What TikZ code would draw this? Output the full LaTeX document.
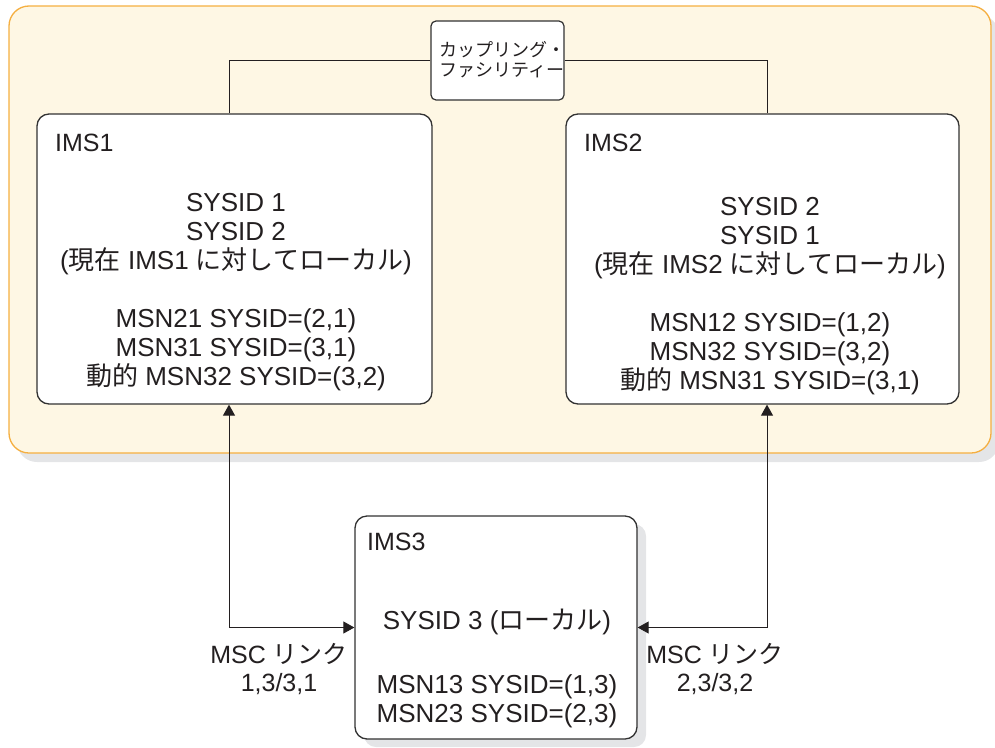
\documentclass[tikz,border=0pt]{standalone}
\usepackage{fontspec}
\setmainfont{Liberation Sans}
\newfontfamily\jp{Noto Sans CJK JP}
\usetikzlibrary{arrows.meta}
\definecolor{cream}{RGB}{254,247,228}
\definecolor{orangeb}{RGB}{245,175,65}
\definecolor{shadowg}{RGB}{228,229,231}
\definecolor{boxline}{RGB}{50,50,50}
\definecolor{txt}{RGB}{35,31,32}
\begin{document}
\begin{tikzpicture}[x=1pt,y=-1pt,
  plexbox/.style={draw=orangeb, line width=1.3pt, fill=cream, rounded corners=20pt, inner sep=0pt},
  sysbox/.style={draw=boxline, line width=1.3pt, fill=white, rounded corners=12pt, inner sep=0pt},
  cfbox/.style={draw=boxline, line width=1.2pt, fill=white, rounded corners=5pt, inner sep=0pt},
  shadowbox/.style={fill=shadowg, draw=none, inner sep=0pt},
  maintext/.style={font=\fontsize{26}{29}\selectfont, text=txt, align=center, inner sep=0pt},
  lbltext/.style={font=\fontsize{25}{28}\selectfont, text=txt, align=center, inner sep=0pt},
  cftext/.style={font=\fontsize{18}{20}\selectfont, text=txt, align=center, inner sep=0pt},
  link/.style={draw=txt, line width=1pt},
  biarrow/.style={link, {Triangle[length=11pt,width=12pt]}-{Triangle[length=11pt,width=12pt]}}
]
\useasboundingbox (0,0) rectangle (995,747);

% outer sysplex area
\node[shadowbox, rounded corners=20pt, minimum width=982pt, minimum height=447pt] (plexsh) at (508,238.5) {};
\node[plexbox, minimum width=982pt, minimum height=447pt] (plex) at (500,229.5) {};

% coupling facility
\node[cfbox, minimum width=133pt, minimum height=79pt] (cf) at (497.5,60.5) {};
\node[cftext] (cftxt) at (502,60) {\jp カップリング・\\\jp ファシリティー};

% IMS1
\node[sysbox, minimum width=395pt, minimum height=290pt] (ims1) at (234.5,259) {};
\node[lbltext, anchor=west] (ims1lbl) at (55,143) {IMS1};
\node[maintext] (ims1txt) at (236,292) {SYSID 1\\SYSID 2\\({\jp 現在} IMS1 {\jp に対してローカル})\\[29pt]MSN21 SYSID=(2,1)\\MSN31 SYSID=(3,1)\\{\jp 動的} MSN32 SYSID=(3,2)};

% IMS2
\node[sysbox, minimum width=393pt, minimum height=290pt] (ims2) at (762.5,259) {};
\node[lbltext, anchor=west] (ims2lbl) at (584,143) {IMS2};
\node[maintext] (ims2txt) at (770,296) {SYSID 2\\SYSID 1\\({\jp 現在} IMS2 {\jp に対してローカル})\\[29pt]MSN12 SYSID=(1,2)\\MSN32 SYSID=(3,2)\\{\jp 動的} MSN31 SYSID=(3,1)};

% IMS3
\node[shadowbox, rounded corners=12pt, minimum width=282pt, minimum height=223pt] (ims3sh) at (505,635.5) {};
\node[sysbox, minimum width=282pt, minimum height=223pt] (ims3) at (496,627.5) {};
\node[lbltext, anchor=west] (ims3lbl) at (367,542) {IMS3};
\node[maintext] (ims3a) at (497,622) {SYSID 3 ({\jp ローカル})};
\node[maintext] (ims3b) at (497,701) {MSN13 SYSID=(1,3)\\MSN23 SYSID=(2,3)};

% connector columns
\coordinate (lx) at (229,628);
\coordinate (rx) at (767,628);

% coupling links
\draw[link] (cf.west) -| (ims1.north -| lx);
\draw[link] (cf.east) -| (ims2.north -| rx);

% MSC links
\draw[biarrow] (ims1.south -| lx) |- (ims3.west);
\draw[biarrow] (ims2.south -| rx) |- (ims3.east);

\node[lbltext] (msc1) at (279,669) {MSC {\jp リンク}\\1,3/3,1};
\node[lbltext] (msc2) at (715,669) {MSC {\jp リンク}\\2,3/3,2};
\end{tikzpicture}
\end{document}
